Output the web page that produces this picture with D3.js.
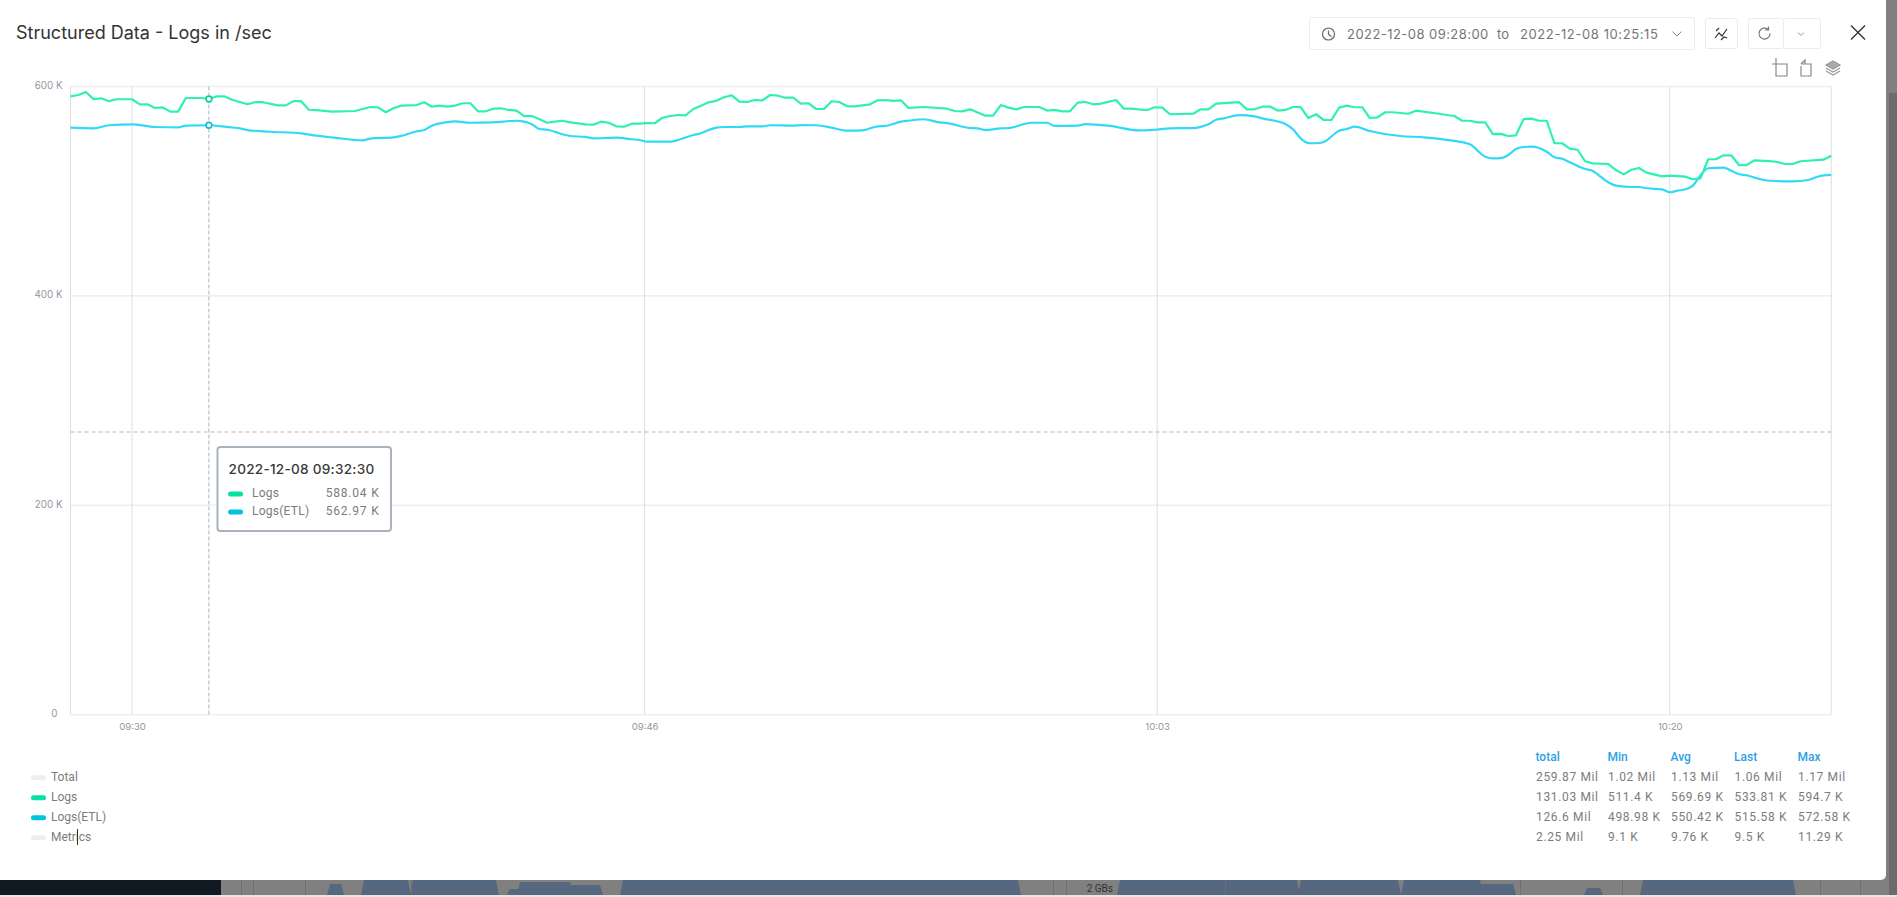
<!DOCTYPE html>
<html>
<head>
<meta charset="utf-8">
<script src="https://cdn.jsdelivr.net/npm/d3@7"></script>
<style>
html,body{margin:0;padding:0;background:#808080;overflow:hidden}
svg{display:block}
text{font-family:Inter,"Noto Sans",sans-serif}
.rb{font-family:Roboto,sans-serif}
</style>
</head>
<body>
<svg id="c" width="1897" height="897"></svg>
<script>
// ---- data ----
const chartTitle = "Structured Data - Logs in /sec";
const rangeFrom = "2022-12-08 09:28:00";
const rangeTo = "2022-12-08 10:25:15";
const sampleSeconds = 15;
const yTicks = [0, 200000, 400000, 600000];
const yTickLabels = ["0", "200 K", "400 K", "600 K"];
const xTickLabels = ["09:30", "09:46", "10:03", "10:20"];
const xTickSamples = [8, 74.6667, 141.3333, 208];

const logsSamples = [0,1,2,3,4,5,6,8,9,10,11,12,13,14,15,17,18,19,20,21,23,24,25,27,28,29,30,31,32,34,37,39,40,41,42,43,45,46,47,48,49,50,51,52,53,54,55,56,57,58,59,60,61,62,63,64,65,67,68,69,70,71,72,73,74,75,76,77,78,79,80,81,82,83,84,85,86,87,88,89,90,91,92,93,94,95,96,97,98,99,100,101,102,104,105,106,107,108,109,111,114,115,116,117,119,120,121,122,123,124,126,127,128,129,130,131,132,133,134,136,137,138,140,141,142,143,146,147,148,149,152,153,154,155,156,157,158,159,160,161,162,163,164,165,166,167,168,169,170,171,172,174,175,178,179,180,181,182,183,184,185,186,187,188,189,190,191,192,193,194,195,196,197,198,200,201,202,203,204,205,207,208,210,211,212,213,214,215,216,217,218,219,221,222,223,224,225,228,229];
const logsValues = [590.6,591.9,594.7,588,588.7,586,587.8,587.8,583,583,579.5,580,576,576,589,589,588.04,590.6,590.6,587.4,583,585,585,582,582,586,586,577.8,577.5,576,576.6,580.4,580,575.4,579.2,581.7,582.3,584.9,580.7,581.7,580.7,581.7,584,584,576.3,576.3,578.8,579.2,577.6,577,571.8,571.8,568.7,565.4,566.4,567.3,565.8,563.9,563.5,566.4,565.4,562,561.6,564.5,564.5,565.1,564.9,570.2,571.8,572.8,572.5,578.5,581.7,584.9,586.4,589.7,591.6,585.5,585.2,587.1,586.8,591.9,591.2,589.3,589.3,583.6,584,578.5,578.5,585.9,585.2,581.1,581.1,583,586.8,587.1,586.2,586.8,579.5,580.4,578.8,576.6,576.3,578.2,572.1,572.1,582.3,579.8,578.2,580.4,580.4,577,577.6,576.3,576.3,584.6,585.2,583,583.6,587.1,578.8,578.8,577.3,580.2,579.8,573.5,574,578.2,578.2,583.6,585,578.2,578.2,580.7,580.9,577,577.6,580.4,580.4,569.9,573.5,568,568,579.8,581.7,580.2,580.2,569.9,570.6,575.4,575.4,574,576.9,574,572.8,571.8,567.3,567.3,565.8,565.8,554.6,554.7,552.7,553.4,568.9,569.3,567.3,567.3,545.8,545.8,540.6,539.6,528.6,526.6,526,520.2,516.1,520.5,522.2,517.7,514.2,514.8,513.9,511.4,512.3,530.5,530.5,534.3,534.3,525,525,529.5,528.8,527.9,526,526,528.6,530.1,533.81];

const etlSamples = [0,3,5,8,11,14,15,18,20,22,23,26,30,32,34,38,39,42,43,45,46,47,49,50,52,55,58,59,60,61,62,64,65,67,68,71,73,74,75,78,79,81,82,83,84,85,87,88,90,91,94,95,97,99,101,103,105,106,108,109,111,113,114,117,118,119,121,122,125,127,128,131,132,135,139,141,143,146,147,148,149,150,152,154,155,158,159,160,161,162,163,165,166,167,169,173,176,180,182,184,185,186,187,188,189,190,191,192,193,194,195,197,198,199,200,201,203,204,205,207,208,209,210,211,212,213,214,215,216,217,218,219,221,224,226,227,228,229];
const etlValues = [560.7,560.1,563,563.9,561.3,561,562.6,562.97,561.6,560,558.4,556.8,555.2,553,551.4,548.6,550.3,551.4,552.8,557.2,558.4,562.6,566,566.7,565.4,565.8,567.3,566.4,563.9,559.4,558.7,554.4,552.7,551.8,550.5,551.1,549.6,548.9,547.3,547.3,548.9,553.7,555.3,558.4,560.7,561.3,561.3,562,562,563,562.6,563.2,563,560.7,557.8,558.1,562,562.3,566.4,567.3,568.7,565.8,565.1,560.3,560,558.4,560,560.3,565.4,565.4,562.3,562.6,564.1,562.6,558,558.7,560,560.3,561.5,563.9,568.3,569.6,572.58,571.5,569.6,564.2,559.1,550.5,546,545.8,547,557.8,559.4,561.6,557.5,552.7,551.5,548,544.8,533,531.4,531.6,534.6,540.3,542.2,542.5,541.2,537.7,532.4,531,527.6,521.2,519.3,513.9,508.5,505.3,504,504,502.8,501.8,498.98,500.5,501.8,505.3,515.2,521.9,522.3,522.5,519.6,516.2,515.2,513,510,509.4,510.7,513.3,515.2,515.58];

const hoverSample = 18;
const hoverTitle = "2022-12-08 09:32:30";
const hoverLabels = ["Logs", "Logs(ETL)"];
const hoverValues = ["588.04 K", "562.97 K"];
const hoverKilo = [588.04, 562.97];
const pointerValue = 270;

const legendNames = ["Total", "Logs", "Logs(ETL)", "Metrics"];
const legendActive = [false, true, true, false];
const statHeaders = ["total", "Min", "Avg", "Last", "Max"];
const statTotal = ["259.87 Mil", "1.02 Mil", "1.13 Mil", "1.06 Mil", "1.17 Mil"];
const statLogs = ["131.03 Mil", "511.4 K", "569.69 K", "533.81 K", "594.7 K"];
const statEtl = ["126.6 Mil", "498.98 K", "550.42 K", "515.58 K", "572.58 K"];
const statMetrics = ["2.25 Mil", "9.1 K", "9.76 K", "9.5 K", "11.29 K"];

// ---- colours ----
const GREEN = "#2ff0b4", BLUE = "#30daf6", LEG_G = "#07dfa4", LEG_B = "#00c3dc";

const svg = d3.select("#c");
const W = 1897, H = 897;
const time0 = new Date(2022, 11, 8, 9, 28, 0);
const toTime = s => new Date(+time0 + s * sampleSeconds * 1000);

// ---- page behind the dialog ----
const backdrop = svg.append("g");
backdrop.append("rect").attr("width", W).attr("height", H).attr("fill", "#808080");
backdrop.append("rect").attr("x", 1889).attr("y", 93).attr("width", 8).attr("height", H).attr("fill", "#6b6b6b");
backdrop.append("rect").attr("x", 0).attr("y", 880).attr("width", 221).attr("height", 15).attr("fill", "#111a22");
[[330,341,884],[364,408,880],[413,496,880],[510,520,889],[520,570,882],[570,600,885],[623,1018,880],[1120,1297,880],[1301,1398,880],[1404,1480,880],[1480,1513,884],[1587,1600,888],[1643,1793,880]]
  .forEach(d => backdrop.append("path")
    .attr("d", `M${d[0]-3},895L${d[0]},${d[2]}H${d[1]}L${d[1]+3},895Z`).attr("fill", "#566780"));
[241,253,305,411,1053,1066,1225,1520,1622,1820,1860].forEach(x => backdrop.append("line").attr("x1",x+.5).attr("x2",x+.5).attr("y1",880).attr("y2",895).attr("stroke","#6f6f6f"));
backdrop.append("text").attr("x",1113).attr("y",892).attr("text-anchor","end").attr("font-size",10).attr("fill","#333").attr("class","rb").text("2 GBs");
backdrop.append("rect").attr("x", 0).attr("y", 895).attr("width", W).attr("height", 2).attr("fill", "#e6e6e6");

// ---- dialog ----
svg.append("path").attr("d", "M0,0H1886V875a5,5 0 0 1 -5,5H0Z").attr("fill", "#fff");

svg.append("text").attr("x", 16).attr("y", 38.5).attr("font-size", 18).attr("fill", "#333").text(chartTitle);

// toolbar
const tb = svg.append("g");
const box = (x, y, w, h) => tb.append("rect").attr("x", x+.5).attr("y", y+.5).attr("width", w).attr("height", h).attr("rx", 2).attr("fill", "#fff").attr("stroke", "#e8ebf0");
box(1309, 17, 385, 32);
box(1705, 18, 32, 30);
box(1748, 18, 35, 30);
box(1783, 18, 37, 30);
const ic = { fill: "none", stroke: "#666", "stroke-width": 1.2 };
const icon = (d, st) => { const p = tb.append("path").attr("d", d); Object.entries(Object.assign({}, ic, st||{})).forEach(([k,v]) => p.attr(k,v)); };
tb.append("circle").attr("cx",1328.5).attr("cy",34).attr("r",6).attr("fill","none").attr("stroke","#666").attr("stroke-width",1.2);
icon("M1328.5,30.5V34.5L1331.5,36.5");
tb.append("text").attr("x",1347).attr("y",38.5).attr("font-size",13).attr("letter-spacing",".45").attr("fill","#757575").text(rangeFrom);
tb.append("text").attr("x",1497).attr("y",38.5).attr("font-size",13).attr("fill","#757575").text("to");
tb.append("text").attr("x",1520).attr("y",38.5).attr("font-size",13).attr("letter-spacing",".6").attr("fill","#757575").text(rangeTo);
icon("M1672.5,31.5L1677,36L1681.5,31.5", {stroke:"#888", "stroke-width":1});
icon("M1715,38L1719,33L1722,36L1727,29M1716,31L1719,28M1721,40L1724,37L1727,38", {stroke:"#333"});
icon("M1770,33.5a5.5,5.5 0 1 1 -2,-4.2M1768.5,26.5V30H1765", {stroke:"#777"});
icon("M1798,32.5L1801,35.5L1804,32.5", {stroke:"#999", "stroke-width":1});
icon("M1851,25.5L1865,39.5M1865,25.5L1851,39.5", {stroke:"#333", "stroke-width":1.4});
icon("M1776,60V76H1787V64H1772M1776,58V60", {stroke:"#888"});
icon("M1801,64H1805V60L1801,64M1805,64H1811V76H1801V66", {stroke:"#888"});
icon("M1833,61L1840,65L1833,69L1826,65Z", {fill:"#aaa", stroke:"#999"});
icon("M1826,68L1833,72L1840,68M1826,71L1833,75L1840,71", {stroke:"#999"});

// ---- scales ----
const x = d3.scaleTime().domain([time0, toTime(229)]).range([70.5, 1831.2]);
const y = d3.scaleLinear().domain([0, 600000]).range([714.7, 86.5]);

// ---- grid ----
const grid = svg.append("g");
grid.selectAll("line.h").data(yTicks).join("line").attr("class","h")
  .attr("x1", x.range()[0]).attr("x2", x.range()[1]).attr("y1", d=>y(d)).attr("y2", d=>y(d))
  .attr("stroke", "#efefef").attr("stroke-width", 1.6);
const vTimes = xTickSamples.map(toTime);
grid.selectAll("line.v").data(vTimes.concat([time0, toTime(229)])).join("line").attr("class","v")
  .attr("x1", d=>x(d)).attr("x2", d=>x(d)).attr("y1", y(600000)).attr("y2", y(0))
  .attr("stroke", "#dedede").attr("stroke-width", 1);

// ---- axes ----
const yAxis = d3.axisLeft(y).tickValues(yTicks).tickSize(0).tickPadding(8)
  .tickFormat((d,i)=>yTickLabels[i]);
const gy = svg.append("g").attr("transform", `translate(${x.range()[0]},0)`).call(yAxis);
gy.select(".domain").remove();
gy.selectAll("text").attr("font-size",9.8).attr("fill","#94979f").attr("dy","0.2em").attr("font-family","Inter");
gy.selectAll("text").filter(d=>d===0).attr("dx","-5");
const xAxis = d3.axisBottom(x).tickValues(vTimes).tickSize(0).tickPadding(8)
  .tickFormat((d,i)=>xTickLabels[i]);
const gx = svg.append("g").attr("transform", `translate(0,${y(0)})`).call(xAxis);
gx.select(".domain").remove();
gx.selectAll("text").attr("font-size",9.6).attr("fill","#94979f").attr("font-family","Inter");

// ---- series ----
const logsData = logsSamples.map((s,i)=>({t:toTime(s), v:logsValues[i]*1000}));
const etlData = etlSamples.map((s,i)=>({t:toTime(s), v:etlValues[i]*1000}));
const lineG = d3.line().x(d=>x(d.t)).y(d=>y(d.v));
const lineB = d3.line().x(d=>x(d.t)).y(d=>y(d.v)).curve(d3.curveMonotoneX);

// crosshair
const hx = x(toTime(hoverSample));
svg.append("line").attr("x1",hx).attr("x2",hx).attr("y1",y(600000)).attr("y2",y(0))
  .attr("stroke","#adb1c0").attr("stroke-width",1).attr("stroke-dasharray","4,2");
svg.append("line").attr("x1",x.range()[0]).attr("x2",x.range()[1]).attr("y1",y(pointerValue*1000)).attr("y2",y(pointerValue*1000))
  .attr("stroke","#b5b5b5").attr("stroke-width",1.2).attr("stroke-dasharray","4,3");

svg.append("path").datum(etlData).attr("d",lineB).attr("fill","none").attr("stroke",BLUE).attr("stroke-width",2.2);
svg.append("path").datum(logsData).attr("d",lineG).attr("fill","none").attr("stroke",GREEN).attr("stroke-width",2.2).attr("stroke-linejoin","round");

svg.selectAll("circle.m").data(hoverKilo).join("circle").attr("class","m")
  .attr("cx",hx).attr("cy",d=>y(d*1000)).attr("r",2.9).attr("fill","#fff")
  .attr("stroke",(d,i)=>i?"#15bcd6":"#14c9a0").attr("stroke-width",1.6);

// ---- tooltip ----
const tt = svg.append("g");
tt.append("rect").attr("x",217.5).attr("y",447).attr("width",173.5).attr("height",84).attr("rx",3)
  .attr("fill","#fff").attr("stroke","#a8b3be").attr("stroke-width",2);
tt.append("text").attr("x",228.5).attr("y",473.5).attr("font-size",13.6).attr("font-weight",500).attr("letter-spacing",".25").attr("fill","#3a3a3a").text(hoverTitle);
hoverLabels.forEach((n,i)=>{
  const cy = 494 + i*18;
  tt.append("rect").attr("x",228).attr("y",cy-2.5).attr("width",15).attr("height",5).attr("rx",2.5).attr("fill",i?LEG_B:LEG_G);
  tt.append("text").attr("x",252).attr("y",cy+3).attr("font-size",12).attr("fill","#7c7c7c").attr("class","rb").attr("letter-spacing",".25").text(n);
  tt.append("text").attr("x",379.5).attr("y",cy+3).attr("font-size",12).attr("fill","#7c7c7c").attr("class","rb").attr("letter-spacing",".8").attr("text-anchor","end").text(hoverValues[i]);
});

// ---- legend ----
const leg = svg.append("g");
legendNames.forEach((n,i)=>{
  const cy = 777.7 + i*20;
  leg.append("rect").attr("x",31).attr("y",cy-2.5).attr("width",15).attr("height",5).attr("rx",2.5)
    .attr("fill", legendActive[i] ? (i===1?LEG_G:LEG_B) : "#eeeeee");
  leg.append("text").attr("x",51).attr("y",cy+3.3).attr("font-size",12).attr("fill","#7c7c7c").attr("class","rb").text(n);
});
leg.append("line").attr("x1",77.5).attr("x2",77.5).attr("y1",829).attr("y2",845).attr("stroke","#333").attr("stroke-width",1);

// ---- stats table ----
const colX = [1536, 1608, 1671, 1734.5, 1798];
statHeaders.forEach((h,c)=>{
  svg.append("text").attr("x",colX[c]-.5).attr("y",761).attr("font-size",12).attr("font-weight",500).attr("fill","#2e9fe6").attr("class","rb").text(h);
});
[statTotal, statLogs, statEtl, statMetrics].forEach((row,r)=>{
  row.forEach((v,c)=>{
    svg.append("text").attr("x",colX[c]).attr("y",780.5+r*20).attr("font-size",12).attr("letter-spacing",".65").attr("fill","#7c7c7c").attr("class","rb").text(v);
  });
});
</script>
</body>
</html>
